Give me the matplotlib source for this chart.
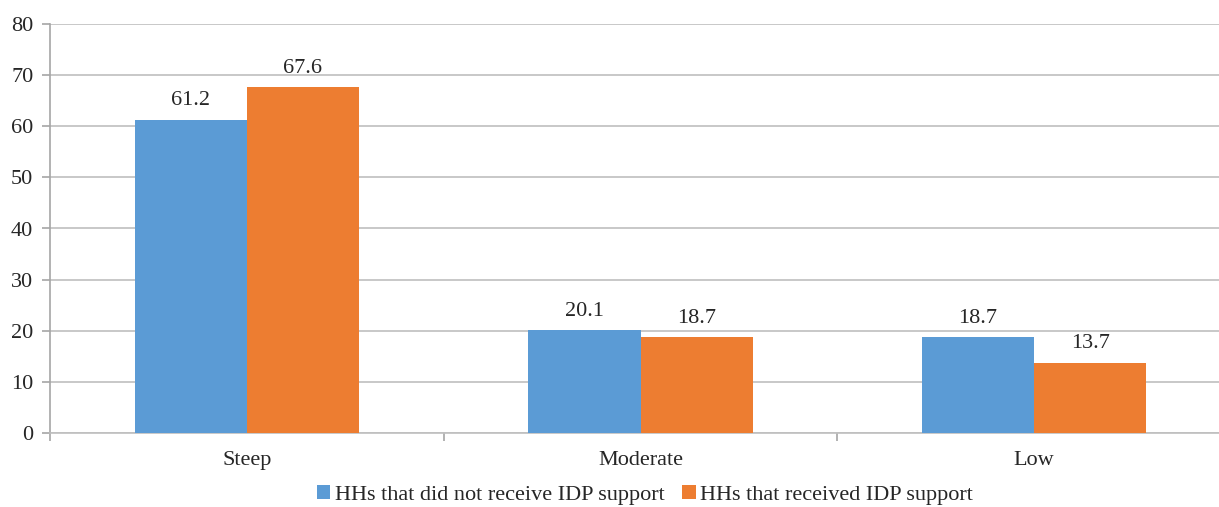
import matplotlib.pyplot as plt
import numpy as np

categories = ["Steep", "Moderate", "Low"]
no_support = [61.2, 20.1, 18.7]
with_support = [67.6, 18.7, 13.7]
series_labels = ["HHs that did not receive IDP support", "HHs that received IDP support"]
y_ticks = [0, 10, 20, 30, 40, 50, 60, 70, 80]

blue = "#5B9BD5"
orange = "#ED7D31"
grid_col = "#BFBFBF"
fs = 16

plt.rcParams["font.family"] = ["Liberation Serif", "DejaVu Serif"]

fig = plt.figure(figsize=(12.19, 5.07), dpi=100)
ax = fig.add_axes([50 / 1219, 74 / 507, 1181 / 1219, 409 / 507])

x = np.arange(len(categories))
w = 0.285
b1 = ax.bar(x - w / 2, no_support, w, color=blue, label=series_labels[0], zorder=3)
b2 = ax.bar(x + w / 2, with_support, w, color=orange, label=series_labels[1], zorder=3)

for bars, vals in ((b1, no_support), (b2, with_support)):
    for rect, v in zip(bars, vals):
        ax.annotate(f"{v:.1f}", (rect.get_x() + rect.get_width() / 2, v),
                    xytext=(0, 7), textcoords="offset points",
                    ha="center", va="bottom", fontsize=fs, color="#262626")

ax.set_xlim(-0.5, len(categories) - 0.5)
ax.set_ylim(0, 80)
ax.set_yticks(y_ticks)
ax.yaxis.grid(True, color=grid_col, linewidth=1.2, zorder=0)
ax.set_axisbelow(True)

ax.set_xticks(x)
ax.set_xticklabels(categories, fontsize=fs, color="#262626")
ax.tick_params(axis="x", length=0, pad=13)
ax.set_xticks(np.arange(len(categories) + 1) - 0.5, minor=True)
ax.tick_params(axis="x", which="minor", length=6, color="#A6A6A6", width=1.2)
ax.tick_params(axis="y", length=6, color="#A6A6A6", width=1.2, labelsize=fs,
               labelcolor="#262626", pad=6)

for s in ("top", "right"):
    ax.spines[s].set_visible(False)
ax.spines["left"].set_color("#A6A6A6")
ax.spines["bottom"].set_color(grid_col)
ax.spines["left"].set_linewidth(1.2)
ax.spines["bottom"].set_linewidth(1.2)

fig.legend(handles=[b1, b2], labels=series_labels, loc="center",
           bbox_to_anchor=(645 / 1219, 1 - 495 / 507), ncol=2, frameon=False,
           fontsize=fs, handlelength=0.6, handleheight=0.6, handletextpad=0.2,
           columnspacing=0.8, labelcolor="#262626")

fig.savefig("out.png", dpi=100)
